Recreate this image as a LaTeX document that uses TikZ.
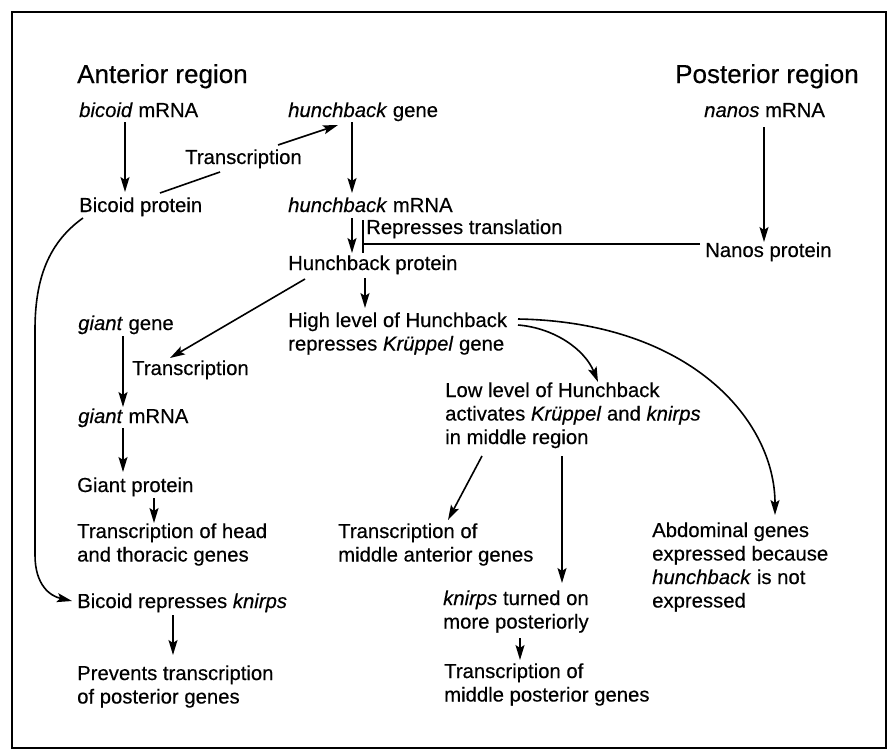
\documentclass[tikz,border=0pt]{standalone}
\usepackage{fontspec}
\setmainfont{Liberation Sans}[UprightFeatures={FakeBold=0.35},ItalicFeatures={FakeBold=0.35}]
\usetikzlibrary{arrows.meta,calc}
\newcommand{\ml}[1]{\begin{tabular}[t]{@{}l@{}}#1\end{tabular}}
\begin{document}
\begin{tikzpicture}[x=1pt,y=-1pt,
  lbl/.style={anchor=base west,inner sep=0pt,font=\fontsize{20.3}{23.5}\selectfont},
  head/.style={anchor=base west,inner sep=0pt,font=\fontsize{26}{30}\selectfont},
  conn/.style={line width=1.6pt},
  arr/.style={conn,-{Stealth[length=15pt,width=9pt,inset=3pt]}}]
\useasboundingbox (0,0) rectangle (893,750);
% frame
\draw[line width=1.6pt] (12,12) rectangle (886,748);
\draw[line width=2.6pt] (12,12) -- (886,12);

% headings
\node[head] (ant) at (77,83) {Anterior region};
\node[head] (post) at (675,83) {Posterior region};

% texts
\node[lbl] (bm) at (79,117) {\textit{bicoid} mRNA};
\node[lbl] (hg) at (288,117) {\textit{hunchback} gene};
\node[lbl] (nm) at (704,117) {\textit{nanos} mRNA};
\node[lbl] (tr1) at (185,164) {Transcription};
\node[lbl] (bp) at (79,212) {Bicoid protein};
\node[lbl] (hm) at (288,212) {\textit{hunchback} mRNA};
\node[lbl] (rt) at (366,234) {Represses translation};
\node[lbl] (np) at (705,257) {Nanos protein};
\node[lbl] (hp) at (288,270) {Hunchback protein};
\node[lbl] (gg) at (78,330) {\textit{giant} gene};
\node[lbl] (hl) at (288,327) {\ml{High level of Hunchback\\represses \textit{Krüppel} gene}};
\node[lbl] (tr2) at (132,375) {Transcription};
\node[lbl] (gm) at (78,423) {\textit{giant} mRNA};
\node[lbl] (ll) at (445,397) {\ml{Low level of Hunchback\\activates \textit{Krüppel} and \textit{knirps}\\in middle region}};
\node[lbl] (gp) at (77,492) {Giant protein};
\node[lbl] (th) at (77,538) {\ml{Transcription of head\\and thoracic genes}};
\node[lbl] (ma) at (338,538) {\ml{Transcription of\\middle anterior genes}};
\node[lbl] (ab) at (652,537) {\ml{Abdominal genes\\expressed because\\\textit{hunchback} is not\\expressed}};
\node[lbl] (brk) at (77,608) {Bicoid represses \textit{knirps}};
\node[lbl] (kt) at (443,605) {\ml{\textit{knirps} turned on\\more posteriorly}};
\node[lbl] (pv) at (77,680) {\ml{Prevents transcription\\of posterior genes}};
\node[lbl] (mp) at (444,678) {\ml{Transcription of\\middle posterior genes}};

% connectors
\draw[arr] ($(bm.base west)+(46,5)$) -- ($(bp.base west)+(46,-20)$);
\draw[arr] ($(hg.base west)+(64,5)$) -- ($(hm.base west)+(64,-19)$);
\draw[conn] ($(bp.base west)+(81,-19)$) -- ($(tr1.base west)+(35,8)$);
\draw[arr] ($(tr1.base west)+(93,-19)$) -- ($(hg.base west)+(50,8)$);
\draw[arr] ($(nm.base west)+(60,10)$) -- ($(np.base west)+(59,-15)$);
\draw[arr] ($(hm.base west)+(64,6)$) -- ($(hp.base west)+(64,-17)$);
\draw[conn] ($(np.base west)+(-5,-13)$) -- ($(hp.base west)+(75,-26)$) coordinate (tb);
\draw[conn] ($(tb)+(0,-24)$) -- ($(tb)+(0,9)$);
\draw[arr] ($(hp.base west)+(77,8)$) -- ($(hl.base west)+(77,-19)$);
\draw[arr] ($(hp.base west)+(17,9)$) -- ($(tr2.base west)+(38,-17)$);
\draw[arr] ($(gg.base west)+(45,6)$) -- ($(gm.base west)+(45,-16)$);
\draw[arr] ($(gm.base west)+(45,5)$) -- ($(gp.base west)+(46,-20)$);
\draw[arr] ($(gp.base west)+(77,6)$) -- ($(th.base west)+(77,-15)$);
\draw[arr] ($(brk.base west)+(96,7)$) -- ($(pv.base west)+(96,-25)$);
\draw[arr] ($(ll.base west)+(37,59)$) -- ($(ma.base west)+(110,-18)$);
\draw[arr] ($(ll.base west)+(117,59)$) -- ($(kt.base west)+(119,-22)$);
\draw[arr] ($(kt.base west)+(77,33)$) -- ($(mp.base west)+(76,-18)$);
\draw[arr] ($(hl.base west)+(230,-2)$) .. controls (555,328) and (585,350) .. ($(ll.base west)+(153,-15)$);
\draw[arr] ($(hl.base west)+(230,-8)$) .. controls (690,322) and (775,420) .. ($(ab.base west)+(123,-22)$);
\draw[arr] ($(bp.base west)+(4,6)$) .. controls (45,245) and (35,285) .. (35,330) -- (35,555) .. controls (35,585) and (50,596) .. ($(brk.base west)+(-5,-7)$);
\end{tikzpicture}
\end{document}
